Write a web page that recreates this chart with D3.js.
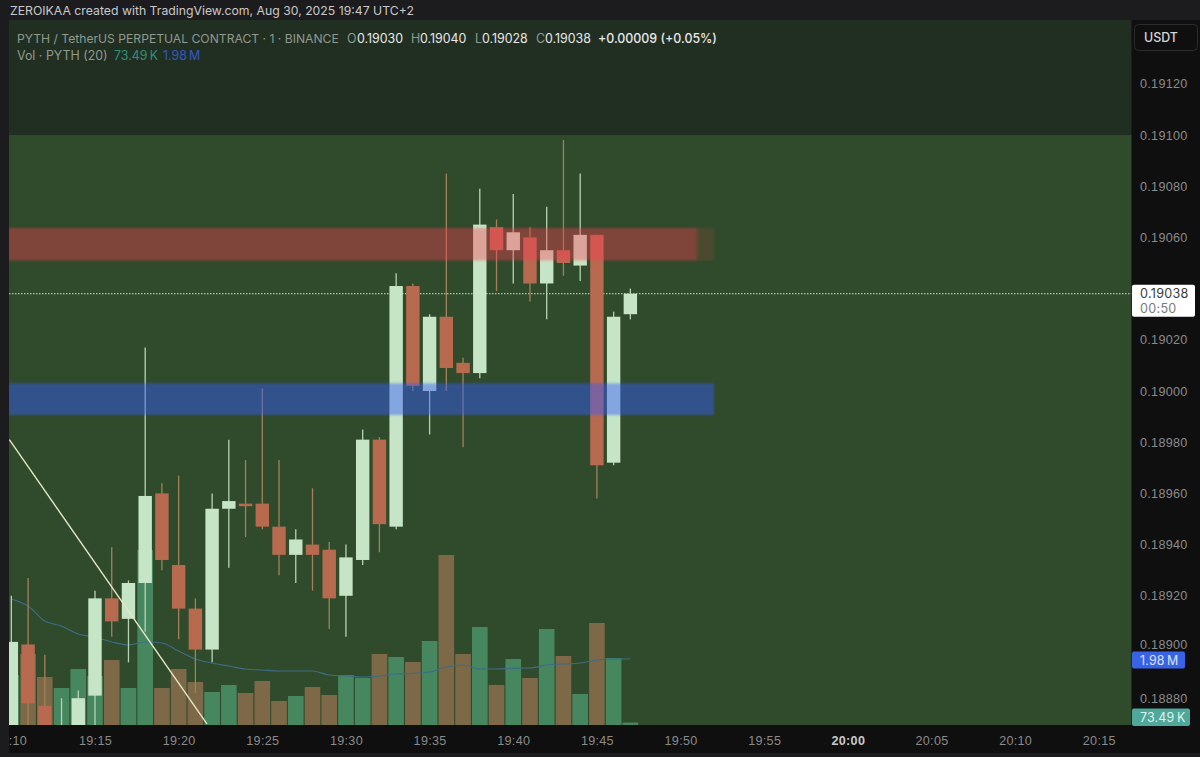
<!DOCTYPE html>
<html>
<head>
<meta charset="utf-8">
<script src="https://cdn.jsdelivr.net/npm/d3@7"></script>
<style>
  html, body { margin: 0; padding: 0; background: #1c1c1e; }
  svg { display: block; font-family: Inter, "Liberation Sans", sans-serif; }
</style>
</head>
<body>
<svg id="chart" width="1200" height="757"></svg>
<script>
// one row per minute, 19:10 -> 19:47
const minutes = d3.range(10, 48);
const opens  = [18860,18901,18877,18862,18862,18881,18919,18911,18925,18960,18932,18915,18899,18954,18956,18956,18947,18936,18940,18938,18920,18934,18981,18947,19041,19000,19029,19011,19007,19064,19055,19060,19042,19055,19049,19061,18972,19030];
const closes = [18902,18878,18860,18866,18880,18919,18910,18925,18959,18934,18915,18899,18954,18957,18955,18947,18936,18942,18936,18919,18935,18981,18948,19041,19002,19029,19009,19007,19065,19055,19062,19042,19055,19050,19061,18971,19029,19038];
const highs  = [18920,18927,18897,18880,18883,18922,18939,18926,19017,18964,18967,18919,18960,18981,18973,19001,18973,18946,18962,18941,18940,18985,18982,19046,19042,19030,19085,19013,19079,19067,19077,19064,19072,19098,19085,19061,19031,19040];
const lows   = [18850,18868,18855,18855,18855,18868,18904,18894,18906,18930,18903,18882,18894,18931,18943,18946,18928,18925,18922,18907,18904,18932,18937,18946,19000,18983,19000,18978,19005,19039,19042,19035,19028,19045,19043,18958,18971,19028];
// volume and its 20 period average, in millions
const volumes = [1.50,2.13,1.44,1.11,1.68,1.47,1.95,1.11,5.25,1.11,1.68,1.29,0.99,1.20,0.96,1.32,0.72,0.87,1.14,0.90,1.50,1.41,2.13,2.04,1.89,2.52,5.10,2.13,2.94,1.20,1.98,1.41,2.88,2.07,0.93,3.06,2.01,0.07349];
const volumeMA = [3.78,3.57,3.12,2.97,2.73,2.64,2.49,2.40,2.49,2.46,2.22,1.98,1.86,1.77,1.68,1.65,1.62,1.62,1.62,1.50,1.47,1.44,1.47,1.53,1.55,1.59,1.74,1.80,1.68,1.68,1.70,1.71,1.80,1.83,1.86,1.95,1.98,1.98];

// 0.19040 is left out, the last price tag covers it
const priceTicks = [19120,19100,19080,19060,19020,19000,18980,18960,18940,18920,18900,18880];
const timeTicks = [10,15,20,25,30,35,40,45,50,55,60,65,70,75];
const timeLabels = [':10','19:15','19:20','19:25','19:30','19:35','19:40','19:45','19:50','19:55','20:00','20:05','20:10','20:15'];

// drawn objects on the chart: [minute, price]
const trendLine = [[9.88,18981],[21.69,18870]];
const redZone = {top: 19063.7, bottom: 19051, end: 51, fadeEnd: 52};
const blueZone = {top: 19003, bottom: 18990.6, end: 52};

const lastPrice = 19038;

const paneLeft = 9, paneRight = 1131.5, paneTop = 20, paneBottom = 725;

// 19:15 sits at x=95, 16.73px per minute
const x = d3.scaleLinear().domain([15, 75]).range([95, 95 + 60 * 16.73]);
// 0.19100 sits at y=135, 2.56px per tick
const y = d3.scaleLinear().domain([19100, 18880]).range([135, 135 + 220 * 2.56]);
const volY = d3.scaleLinear().domain([0, 1]).range([paneBottom, paneBottom - 33.33]);

const svg = d3.select('#chart');

const defs = svg.append('defs');
defs.append('clipPath').attr('id', 'pane').append('rect')
  .attr('x', paneLeft).attr('y', paneTop)
  .attr('width', paneRight - paneLeft).attr('height', paneBottom - paneTop);
defs.append('filter').attr('id', 'soft')
  .attr('x', '-1%').attr('y', '-1%').attr('width', '102%').attr('height', '102%')
  .append('feGaussianBlur').attr('stdDeviation', 0.5);
defs.append('filter').attr('id', 'softer')
  .attr('x', '-1%').attr('y', '-30%').attr('width', '102%').attr('height', '160%')
  .append('feGaussianBlur').attr('stdDeviation', 0.9);

// background
svg.append('rect').attr('width', 1200).attr('height', 757).attr('fill', '#1c1c1e');
svg.append('rect').attr('x', paneLeft).attr('y', paneTop)
  .attr('width', 1200 - paneLeft).attr('height', 733).attr('fill', '#0f0f0f');
svg.append('rect').attr('x', paneLeft).attr('y', paneTop)
  .attr('width', paneRight - paneLeft).attr('height', y(19100) - paneTop).attr('fill', '#212f22');
svg.append('rect').attr('x', paneLeft).attr('y', y(19100))
  .attr('width', paneRight - paneLeft).attr('height', paneBottom - y(19100)).attr('fill', '#304a2c');

const clipped = svg.append('g').attr('clip-path', 'url(#pane)');
const plot = clipped.append('g').attr('filter', 'url(#soft)');

// volume
const barW = 15.6;
plot.append('g').selectAll('rect')
  .data(minutes)
  .enter().append('rect')
  .attr('x', (d) => x(d) - barW / 2)
  .attr('width', barW)
  .attr('y', (d, i) => volY(volumes[i]))
  .attr('height', (d, i) => paneBottom - volY(volumes[i]))
  .attr('fill', (d, i) => closes[i] >= opens[i] ? '#478760' : '#7d6947');

const maLine = d3.line().x((d) => x(d)).y((d, i) => volY(volumeMA[i])).curve(d3.curveMonotoneX);
plot.append('path').attr('d', maLine(minutes))
  .attr('fill', 'none').attr('stroke', '#3d6c86').attr('stroke-width', 1.2);

// last price line
plot.append('line')
  .attr('x1', paneLeft).attr('x2', paneRight)
  .attr('y1', y(lastPrice)).attr('y2', y(lastPrice))
  .attr('stroke', '#d5e2d0').attr('stroke-width', 1).attr('stroke-dasharray', '1.5,1.5');

// candles
const bodyW = 13.4;
const candles = plot.append('g').selectAll('g')
  .data(minutes)
  .enter().append('g');
candles.append('line')
  .attr('x1', (d) => x(d)).attr('x2', (d) => x(d))
  .attr('y1', (d, i) => y(highs[i])).attr('y2', (d, i) => y(lows[i]))
  .attr('stroke', (d, i) => closes[i] >= opens[i] ? '#b5d3b3' : '#a3805c')
  .attr('stroke-width', 1.3);
candles.append('rect')
  .attr('x', (d) => x(d) - bodyW / 2)
  .attr('width', bodyW)
  .attr('y', (d, i) => y(Math.max(opens[i], closes[i])))
  .attr('height', (d, i) => Math.abs(y(opens[i]) - y(closes[i])))
  .attr('fill', (d, i) => closes[i] >= opens[i] ? '#c6e4c6' : '#b86a50');

// trend line
plot.append('path').attr('d', d3.line().x((d) => x(d[0])).y((d) => y(d[1]))(trendLine))
  .attr('fill', 'none').attr('stroke', '#e6e8c4').attr('stroke-width', 1.4);

// zones
const zone = (from, to, top, bottom, fill, opacity) => clipped.append('rect')
  .attr('x', x(from)).attr('width', x(to) - x(from))
  .attr('y', y(top)).attr('height', y(bottom) - y(top))
  .attr('fill', fill).attr('fill-opacity', opacity)
  .attr('filter', 'url(#softer)');
zone(0, redZone.end, redZone.top, redZone.bottom, '#ff3d51', 0.38);
zone(redZone.end, redZone.fadeEnd, redZone.top, redZone.bottom, '#ff3d51', 0.13);
zone(0, blueZone.end, blueZone.top, blueZone.bottom, '#375aff', 0.45);

// price axis
const priceAxis = d3.axisRight(y)
  .tickValues(priceTicks)
  .tickSize(0)
  .tickPadding(0)
  .tickFormat((d) => (d / 100000).toFixed(5));
const priceG = svg.append('g').attr('transform', 'translate(1140,0)').call(priceAxis);
priceG.select('.domain').remove();
priceG.selectAll('text').attr('fill', '#8b8b8b').attr('font-size', 12.6).attr('letter-spacing', 0.3);
priceG.selectAll('.tick').filter((d) => d === 18900).select('text').attr('dy', '0.1em');

// time axis
const timeAxis = d3.axisBottom(x)
  .tickValues(timeTicks)
  .tickSize(0)
  .tickPadding(0)
  .tickFormat((d, i) => timeLabels[i]);
const timeG = svg.append('g').attr('transform', `translate(0,${paneBottom + 11})`).call(timeAxis);
timeG.select('.domain').remove();
timeG.selectAll('text')
  .attr('fill', (d) => d === 60 ? '#c9c9c9' : '#8b8b8b')
  .attr('font-weight', (d) => d === 60 ? 700 : 400)
  .attr('font-size', 12.6).attr('letter-spacing', 0.3);
// the first label is cut by the chart's left edge
timeG.selectAll('.tick').filter((d) => d === 10).select('text').attr('dx', 6);

// price tags
const tag = (xPos, top, w, h, fill, str, labelFill) => {
  svg.append('rect').attr('x', xPos).attr('y', top).attr('width', w).attr('height', h)
    .attr('rx', 2).attr('fill', fill);
  svg.append('text').attr('x', 1140).attr('y', top + h / 2 + 4.5)
    .attr('fill', labelFill).attr('font-size', 12.4).attr('letter-spacing', 0.2).text(str);
};
svg.append('rect').attr('x', 1132).attr('y', y(lastPrice) - 9).attr('width', 63).attr('height', 32)
  .attr('rx', 2).attr('fill', '#ffffff');
svg.append('text').attr('x', 1140).attr('y', y(lastPrice) + 4.5)
  .attr('fill', '#3a3a3a').attr('font-size', 12.6).attr('letter-spacing', 0.3).text('0.19038');
svg.append('text').attr('x', 1140).attr('y', y(lastPrice) + 19)
  .attr('fill', '#7a7a7a').attr('font-size', 12.6).attr('letter-spacing', 0.3).text('00:50');
tag(1132, 651.5, 53, 17, '#3a62e6', '1.98\u2009M', '#dbe4ff');
tag(1132, 708.5, 58, 17.5, '#4fa89a', '73.49\u2009K', '#dff3ee');

// USDT button
svg.append('rect').attr('x', 1134.5).attr('y', 24.5).attr('width', 63).attr('height', 26)
  .attr('rx', 4).attr('fill', '#0f0f0f').attr('stroke', '#2b2b2b');
svg.append('text').attr('x', 1144).attr('y', 42).attr('fill', '#d6d6d6')
  .attr('font-size', 12.4).attr('font-weight', 500).text('USDT');

// header and legend
const label = (xPos, yPos, str, fill, weight, size) => svg.append('text')
  .attr('x', xPos).attr('y', yPos).attr('fill', fill)
  .attr('font-size', size || 12.4).attr('font-weight', weight || 400).text(str);

label(10, 15, 'ZEROIKAA created with TradingView.com, Aug 30, 2025 19:47 UTC+2', '#c9c9c9', 400, 12.25);
label(17, 43, 'PYTH / TetherUS PERPETUAL CONTRACT · 1 · BINANCE', '#8f9a8d', 400, 12.15);
label(347, 43, 'O', '#8f9a8d');
label(357, 43, '0.19030', '#e8e8e8');
label(411, 43, 'H', '#8f9a8d');
label(420, 43, '0.19040', '#e8e8e8');
label(475, 43, 'L', '#8f9a8d');
label(482, 43, '0.19028', '#e8e8e8');
label(536, 43, 'C', '#8f9a8d');
label(545, 43, '0.19038', '#e8e8e8');
label(598, 43, '+0.00009 (+0.05%)', '#e8e8e8', 500);
label(17, 60, 'Vol · PYTH (20)', '#8f9a8d');
label(114, 60, '73.49\u2009K', '#2f8f7a');
label(163, 60, '1.98\u2009M', '#3158c4');
</script>
</body>
</html>
